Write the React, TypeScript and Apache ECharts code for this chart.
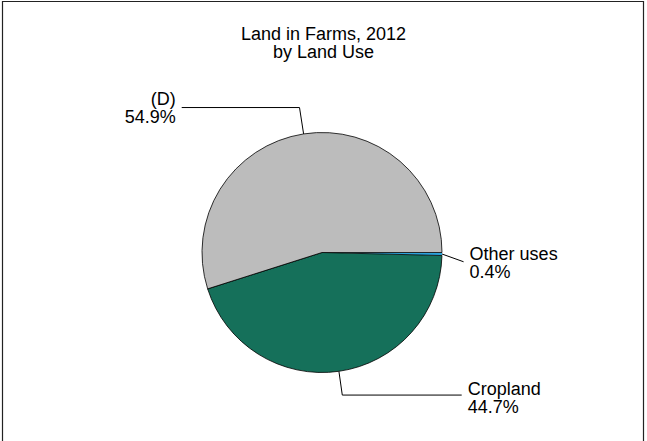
import React, { useEffect, useRef } from "react";
import * as echarts from "echarts";

const titleLines = ["Land in Farms, 2012", "by Land Use"];
const categories = ["Other uses", "Cropland", "(D)"];
const shares = [0.4, 44.7, 54.9];
const sliceColors = ["#2aa3dc", "#15705a", "#bcbcbc"];
const sliceBorders = [0, 0.8, 0.8];
const lineLengths = [21.6, 24, 26.7];
const lineLengths2 = [0, 119.4, 117.8];
const labelShiftY = [8.5, 3, 0];

const FONT = "'Liberation Sans', Arial, Helvetica, sans-serif";

export default function App() {
  const ref = useRef<HTMLDivElement>(null);
  useEffect(() => {
    if (!ref.current) return;
    const chart = echarts.init(ref.current, undefined, { renderer: "svg" });
    chart.setOption({
      animation: false,
      backgroundColor: "#ffffff",
      title: {
        text: titleLines.join("\n"),
        left: "center",
        top: 24.5,
        padding: 0,
        textStyle: {
          fontFamily: FONT,
          fontSize: 18,
          fontWeight: "normal",
          lineHeight: 18,
          color: "#000",
        },
      },
      graphic: [
        {
          type: "rect",
          shape: { x: 2.5, y: 1.5, width: 641, height: 520 },
          style: { fill: "none", stroke: "#222", lineWidth: 1.2 },
          silent: true,
        },
      ],
      series: [
        {
          type: "pie",
          center: [322, 252.5],
          radius: 120,
          startAngle: 0,
          clockwise: true,
          avoidLabelOverlap: false,
          emphasis: { disabled: true },
          itemStyle: { borderColor: "#000", borderWidth: 0.8 },
          label: {
            show: true,
            position: "outside",
            alignTo: "none",
            distanceToLabelLine: 6,
            fontFamily: FONT,
            fontSize: 18,
            lineHeight: 18,
            color: "#000",
            formatter: (p: any) => `${p.name}\n${Number(p.value).toFixed(1)}%`,
          },
          labelLine: {
            show: true,
            smooth: false,
            minTurnAngle: 0,
            lineStyle: { color: "#000", width: 1 },
          },
          labelLayout: (p: any) => {
            const shift = labelShiftY[p.dataIndex] || 0;
            if (p.dataIndex === 0 && p.labelLinePoints) {
              const pts = p.labelLinePoints;
              const end = [pts[2][0], pts[2][1] + 7.5];
              return { dy: shift, labelLinePoints: [pts[0], end, end] };
            }
            return { dy: shift };
          },
          data: categories.map((name, i) => ({
            name,
            value: shares[i],
            itemStyle: { color: sliceColors[i], borderWidth: sliceBorders[i] },
            labelLine: { length: lineLengths[i], length2: lineLengths2[i] },
          })),
        },
      ],
    });
    return () => chart.dispose();
  }, []);
  return (
    <div
      ref={ref}
      style={{ position: "absolute", left: 0, top: 0, width: 647, height: 441 }}
    />
  );
}
